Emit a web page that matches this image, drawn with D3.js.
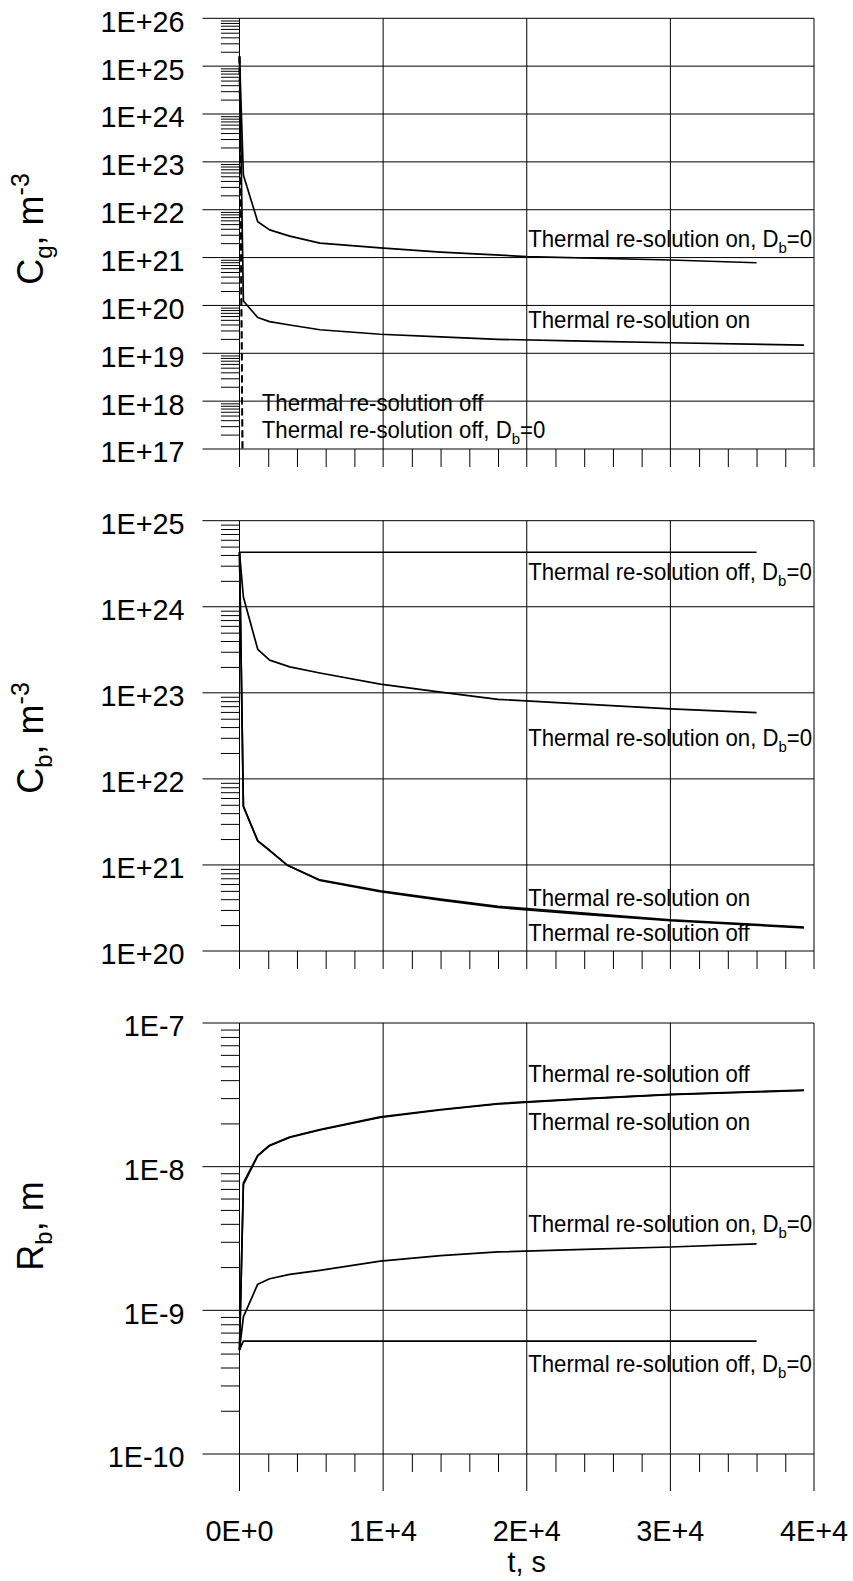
<!DOCTYPE html>
<html>
<head>
<meta charset="utf-8">
<script src="https://cdn.jsdelivr.net/npm/d3@7"></script>
<style>
  body { margin: 0; background: #fff; }
  svg text { font-family: "Liberation Sans", Arial, Helvetica, sans-serif; fill: #000; }
</style>
</head>
<body>
<svg id="chart" width="853" height="1581"></svg>
<script>
// ---- time axis ----
const timeTicks = [0, 10000, 20000, 30000, 40000];
const timeTickLabels = ["0E+0", "1E+4", "2E+4", "3E+4", "4E+4"];
const timeMinorStep = 2000;

// ---- gas-atom concentration in matrix, Cg (m^-3) ----
const cgExponents = [17, 18, 19, 20, 21, 22, 23, 24, 25, 26];
const cgTickLabels = ["1E+17", "1E+18", "1E+19", "1E+20", "1E+21", "1E+22", "1E+23", "1E+24", "1E+25", "1E+26"];
const cgOnDb0 = [[0, 1.6e25], [270, 5.3e22], [1270, 5.6e21], [2100, 3.8e21], [3500, 2.8e21], [5600, 2.0e21],
  [9800, 1.6e21], [14000, 1.3e21], [20000, 1.05e21], [30000, 8.9e20], [36000, 7.8e20]];
const cgOn = [[0, 1.6e25], [270, 1.24e20], [1270, 5.6e19], [2100, 4.6e19], [3500, 3.9e19], [5600, 3.1e19],
  [9800, 2.5e19], [14000, 2.2e19], [18000, 1.96e19], [24000, 1.8e19], [30000, 1.66e19], [39300, 1.48e19]];
const cgOff = [[0, 1.6e25], [240, 1e16]];
const cgOffDb0 = [[0, 1.6e25], [230, 1e16]];

// ---- bubble concentration, Cb (m^-3) ----
const cbExponents = [20, 21, 22, 23, 24, 25];
const cbTickLabels = ["1E+20", "1E+21", "1E+22", "1E+23", "1E+24", "1E+25"];
const cbOffDb0 = [[0, 4.3e24], [36000, 4.3e24]];
const cbOnDb0 = [[0, 4.3e24], [270, 1.3e24], [1270, 3.2e23], [2100, 2.4e23], [3500, 2.0e23], [5600, 1.7e23],
  [9800, 1.26e23], [14000, 1.02e23], [18000, 8.4e22], [24000, 7.4e22], [30000, 6.5e22], [36000, 5.9e22]];
const cbOn = [[0, 4.3e24], [270, 4.8e21], [1270, 1.9e21], [2100, 1.48e21], [3300, 1.0e21], [5600, 6.7e20],
  [9800, 5.0e20], [14000, 4.0e20], [18000, 3.3e20], [24000, 2.75e20], [30000, 2.3e20], [39300, 1.9e20]];
const cbOff = [[0, 4.3e24], [270, 4.8e21], [1270, 1.9e21], [2100, 1.47e21], [3300, 1.0e21], [5600, 6.6e20],
  [9800, 4.9e20], [14000, 3.9e20], [18000, 3.2e20], [24000, 2.66e20], [30000, 2.25e20], [39300, 1.86e20]];

// ---- bubble radius, Rb (m) ----
const rbExponents = [-10, -9, -8, -7];
const rbTickLabels = ["1E-10", "1E-9", "1E-8", "1E-7"];
const rbOff = [[0, 5.3e-10], [270, 7.7e-9], [1270, 1.2e-8], [2100, 1.41e-8], [3500, 1.61e-8], [5600, 1.81e-8],
  [9800, 2.22e-8], [14000, 2.5e-8], [18000, 2.75e-8], [24000, 2.98e-8], [30000, 3.19e-8], [39300, 3.41e-8]];
const rbOn = [[0, 5.3e-10], [270, 7.5e-9], [1270, 1.19e-8], [2100, 1.4e-8], [3500, 1.6e-8], [5600, 1.8e-8],
  [9800, 2.2e-8], [14000, 2.48e-8], [18000, 2.73e-8], [24000, 2.96e-8], [30000, 3.17e-8], [39300, 3.39e-8]];
const rbOnDb0 = [[0, 5.3e-10], [270, 9.0e-10], [1270, 1.52e-9], [2100, 1.66e-9], [3500, 1.78e-9], [5600, 1.9e-9],
  [9800, 2.2e-9], [14000, 2.4e-9], [18000, 2.55e-9], [24000, 2.66e-9], [30000, 2.76e-9], [36000, 2.9e-9]];
const rbOffDb0 = [[0, 5.3e-10], [270, 6.1e-10], [36000, 6.1e-10]];

// ---- curve annotations: [t, value, text, has "Db=0" suffix] ----
const cgNotes = [[20100, 1.69e21, "Thermal re-solution on, D", true], [20100, 3.33e19, "Thermal re-solution on", false],
  [1550, 6.08e17, "Thermal re-solution off", false], [1550, 1.70e17, "Thermal re-solution off, D", true]];
const cbNotes = [[20100, 2.05e24, "Thermal re-solution off, D", true], [20100, 2.41e22, "Thermal re-solution on, D", true],
  [20100, 3.33e20, "Thermal re-solution on", false], [20100, 1.32e20, "Thermal re-solution off", false]];
const rbNotes = [[20100, 3.86e-8, "Thermal re-solution off", false], [20100, 1.79e-8, "Thermal re-solution on", false],
  [20100, 3.51e-9, "Thermal re-solution on, D", true], [20100, 3.7e-10, "Thermal re-solution off, D", true]];

// ---- layout ----
const svg = d3.select("#chart");
const plotLeft = 239.5, plotRight = 814;
const majorTickLen = 37, minorTickLen = 18.6, xMinorLen = 18;
const x = d3.scaleLinear().domain([0, 40000]).range([plotLeft, plotRight]);

const panels = [
  { top: 18.3, bottom: 449, exps: cgExponents, labels: cgTickLabels, notes: cgNotes, titleY: 229, xMajorLen: 18,
    title: ["C", "g", ", m", "-3"],
    series: [{ d: cgOff, dash: "7,4" }, { d: cgOffDb0, dash: "7,4" }, { d: cgOnDb0 }, { d: cgOn }] },
  { top: 520.7, bottom: 951, exps: cbExponents, labels: cbTickLabels, notes: cbNotes, titleY: 738, xMajorLen: 18,
    title: ["C", "b", ", m", "-3"],
    series: [{ d: cbOffDb0 }, { d: cbOnDb0 }, { d: cbOn }, { d: cbOff }] },
  { top: 1023, bottom: 1454, exps: rbExponents, labels: rbTickLabels, notes: rbNotes, titleY: 1226, xMajorLen: 37,
    title: ["R", "b", ", m", null],
    series: [{ d: rbOff }, { d: rbOn }, { d: rbOnDb0 }, { d: rbOffDb0 }] }
];

panels.forEach((p, i) => {
  const lo = p.exps[0], hi = p.exps[p.exps.length - 1];
  const y = d3.scaleLog().domain([Math.pow(10, lo), Math.pow(10, hi)]).range([p.bottom, p.top]);
  const g = svg.append("g");

  // minor log ticks 2..9 per decade
  const minor = [];
  for (let e = lo; e < hi; e++) for (let k = 2; k <= 9; k++) minor.push(k * Math.pow(10, e));
  const yMinor = g.append("g").attr("transform", `translate(${plotLeft},0)`)
    .call(d3.axisLeft(y).tickValues(minor).tickSize(minorTickLen).tickFormat(""));
  yMinor.select(".domain").remove();
  yMinor.selectAll("line").attr("stroke", "#000").attr("stroke-width", 1);

  // decade gridlines, extended left as major ticks
  const decades = p.exps.map(e => Math.pow(10, e));
  g.append("g").selectAll("line").data(decades).join("line")
    .attr("x1", plotLeft - majorTickLen).attr("x2", plotRight)
    .attr("y1", d => y(d)).attr("y2", d => y(d))
    .attr("stroke", "#000").attr("stroke-width", 1);

  // decade labels
  g.append("g").selectAll("text").data(decades).join("text")
    .attr("transform", d => `translate(${plotLeft - majorTickLen - 18},${y(d) + 13.4}) scale(0.96,1)`)
    .attr("text-anchor", "end").attr("font-size", 30)
    .text((d, j) => p.labels[j]);

  // time minor ticks below the panel
  const tMinor = d3.range(0, 40001, timeMinorStep).filter(t => t % 10000 !== 0);
  const xMinorAxis = g.append("g").attr("transform", `translate(0,${p.bottom})`)
    .call(d3.axisBottom(x).tickValues(tMinor).tickSize(xMinorLen).tickFormat(""));
  xMinorAxis.select(".domain").remove();
  xMinorAxis.selectAll("line").attr("stroke", "#000");

  // vertical gridlines continuing as major ticks
  g.append("g").selectAll("line").data(timeTicks).join("line")
    .attr("x1", d => x(d)).attr("x2", d => x(d))
    .attr("y1", p.top).attr("y2", p.bottom + p.xMajorLen)
    .attr("stroke", "#000").attr("stroke-width", 1);

  // curves
  const clipId = "clip" + i;
  svg.append("clipPath").attr("id", clipId).append("rect")
    .attr("x", plotLeft - 2).attr("y", p.top - 2)
    .attr("width", plotRight - plotLeft + 4).attr("height", p.bottom - p.top + 2);
  const line = d3.line().x(d => x(d[0])).y(d => y(d[1]));
  g.append("g").attr("clip-path", `url(#${clipId})`)
    .selectAll("path").data(p.series).join("path")
    .attr("d", s => line(s.d))
    .attr("fill", "none").attr("stroke", "#000").attr("stroke-width", 1.7)
    .attr("stroke-linejoin", "round")
    .attr("stroke-dasharray", s => s.dash || null);

  // curve annotations
  p.notes.forEach(n => {
    const t = g.append("text")
      .attr("transform", `translate(${x(n[0])},${y(n[1])}) scale(0.965,1)`)
      .attr("font-size", 23);
    t.append("tspan").text(n[2]);
    if (n[3]) {
      t.append("tspan").attr("font-size", 15.5).attr("dy", 6).text("b");
      t.append("tspan").attr("dy", -6).text("=0");
    }
  });

  // axis title
  const tt = g.append("text")
    .attr("transform", `translate(43,${p.titleY}) rotate(-90)`)
    .attr("text-anchor", "middle").attr("font-size", 36);
  tt.append("tspan").text(p.title[0]);
  tt.append("tspan").attr("font-size", 24).attr("dy", 9).text(p.title[1]);
  tt.append("tspan").attr("dy", -9).text(p.title[2]);
  if (p.title[3]) tt.append("tspan").attr("font-size", 25).attr("dy", -14).text(p.title[3]);

  // time labels under the last panel
  if (i === panels.length - 1) {
    g.append("g").selectAll("text").data(timeTicks).join("text")
      .attr("transform", d => `translate(${x(d)},1541) scale(0.96,1)`)
      .attr("text-anchor", "middle").attr("font-size", 30)
      .text((d, j) => timeTickLabels[j]);
    g.append("text")
      .attr("transform", `translate(${x(20000)},1572) scale(0.96,1)`)
      .attr("text-anchor", "middle").attr("font-size", 30)
      .text("t, s");
  }
});
</script>
</body>
</html>
